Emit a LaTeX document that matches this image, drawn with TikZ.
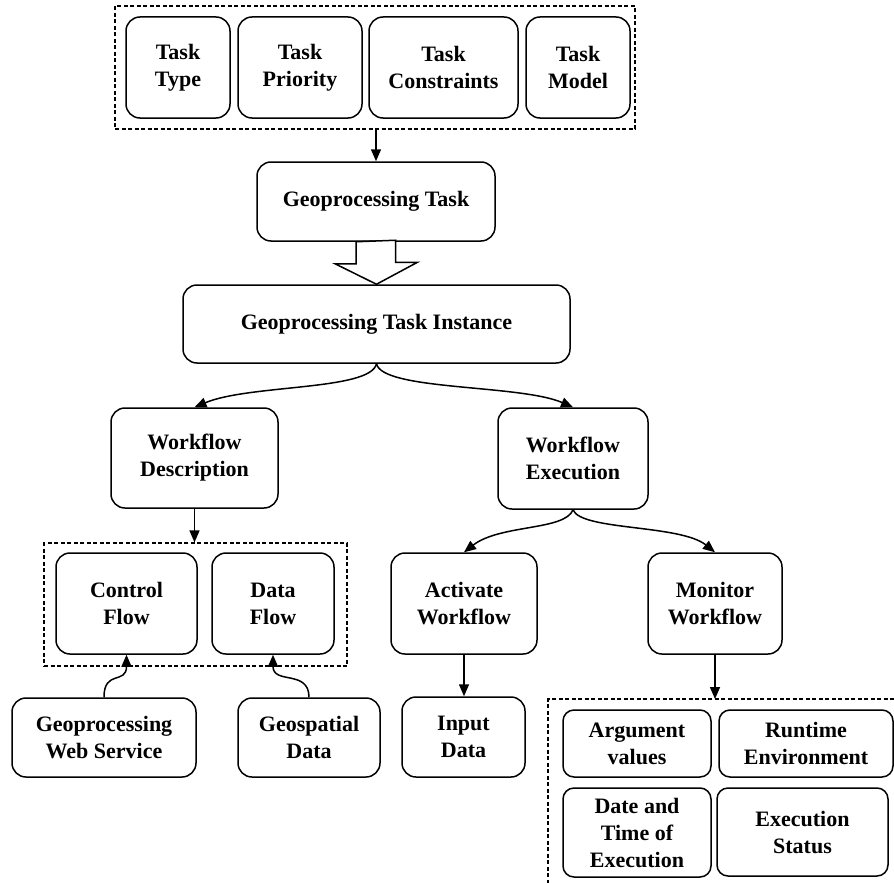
\documentclass[tikz,border=0pt]{standalone}
\usepackage{fontspec}
\setmainfont{Liberation Serif}
\usetikzlibrary{arrows.meta,calc,fit}
\begin{document}
\begin{tikzpicture}[x=1pt,y=-1pt,
  box/.style={draw, line width=1.5pt, rounded corners=14pt, align=center, inner sep=0pt,
    font=\fontsize{22}{27}\selectfont\bfseries},
  sbox/.style={box, rounded corners=11pt},
  grp/.style={draw, line width=1.2pt, dash pattern=on 4pt off 2.5pt, inner sep=0pt},
  arr/.style={line width=1.5pt, -{Triangle[length=12pt,width=10pt]}},
  hollow/.style={draw, line width=1.5pt, fill=white, line join=miter}]
\useasboundingbox (0,0) rectangle (894,883);

% top group
\node[box, minimum width=104pt, minimum height=101pt] (tt) at (178,67.5) {Task\\Type};
\node[box, minimum width=124pt, minimum height=101pt] (tp) at (300,67.5) {Task\\Priority};
\node[box, minimum width=149pt, minimum height=101pt] (tc) at (443.5,67.5) {Task\\Constraints};
\node[box, minimum width=104pt, minimum height=101pt] (tm) at (578,67.5) {Task\\Model};
\node[grp, fit={(115,6) (635,129)}] (topgrp) {};

\node[box, minimum width=238pt, minimum height=79pt] (gt) at (376,201.5) {Geoprocessing Task};
\node[box, minimum width=387pt, minimum height=78pt] (gti) at (376.5,324) {Geoprocessing Task Instance};

\node[box, minimum width=167pt, minimum height=100pt] (wd) at (194.5,458) {Workflow\\Description};
\node[box, minimum width=150pt, minimum height=101pt] (we) at (573,458.5) {Workflow\\Execution};

\node[box, minimum width=141pt, minimum height=101pt] (cf) at (126.5,603.5) {Control\\Flow};
\node[box, minimum width=122pt, minimum height=101pt] (df) at (273,603.5) {Data\\Flow};
\node[grp, fit={(44,543) (347,666)}] (midgrp) {};

\node[box, minimum width=146pt, minimum height=101pt] (act) at (464,603.5) {Activate\\Workflow};
\node[box, minimum width=134pt, minimum height=101pt] (mon) at (715,603.5) {Monitor\\Workflow};

\node[box, minimum width=184pt, minimum height=79pt] (gws) at (104,737.5) {Geoprocessing\\Web Service};
\node[box, minimum width=142pt, minimum height=79pt] (gsd) at (309,737.5) {Geospatial\\Data};
\node[box, minimum width=123pt, minimum height=80pt] (inp) at (463.5,737) {Input\\Data};

\node[sbox, minimum width=148pt, minimum height=67pt] (av) at (637,743.5) {Argument\\values};
\node[sbox, minimum width=174pt, minimum height=67pt] (rt) at (806,743.5) {Runtime\\Environment};
\node[sbox, minimum width=148pt, minimum height=89pt] (dt) at (637,832.5) {Date and\\Time of\\Execution};
\node[sbox, minimum width=171pt, minimum height=88pt] (es) at (802.5,832) {Execution\\Status};

\coordinate (brc) at (548,699);
\coordinate (brr) at (894,699);
\coordinate (brb) at (548,883);
\draw[grp] (brr) -- (brc) -- (brb);

% connectors
\draw[arr] (topgrp.south -| gt.north) -- (gt.north);
\draw[hollow] (gt.south) ++(-20,0) -- ++(0,22) -- ++(-21,0) -- (gti.north) -- ++(41,-22) -- ++(-22,0) -- ++(0,-22) -- cycle;

\draw[arr] (gti.south) .. controls +(-6,27) and +(55,-23) .. (wd.north);
\draw[arr] (gti.south) .. controls +(6,27) and +(-53,-23) .. (we.north);

\draw[arr] (wd.south) -- (wd.south |- midgrp.north);

\draw[arr] (we.south) .. controls +(-8,21) and +(36,-28) .. (act.north);
\draw[arr] (we.south) .. controls +(8,21) and +(-35,-28) .. (mon.north);

\draw[arr] (gws.north) .. controls +(0,-28) and +(0,30) .. (cf.south);
\draw[arr] (gsd.north) .. controls +(0,-28) and +(0,30) .. (df.south);

\draw[arr] (act.south) -- (act.south |- inp.north);
\draw[arr] (mon.south) -- (mon.south |- brc);
\end{tikzpicture}
\end{document}
